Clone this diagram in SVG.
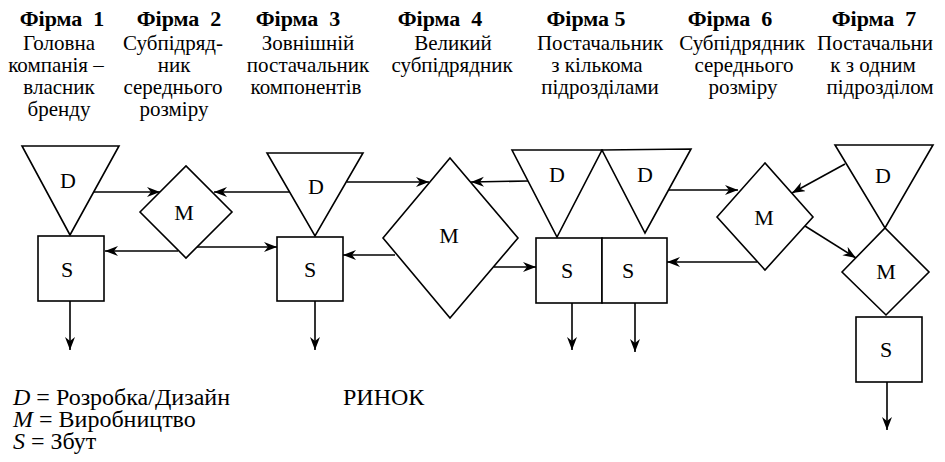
<svg xmlns="http://www.w3.org/2000/svg" width="945" height="462" viewBox="0 0 945 462">
<style>
.t{font-family:'Liberation Serif','Times New Roman',serif;font-size:21px;fill:#000;text-anchor:middle}
.h{font-weight:bold;font-size:22px}
.l{font-family:'Liberation Serif','Times New Roman',serif;font-size:22px;fill:#000;text-anchor:middle}
.lg{font-family:'Liberation Serif','Times New Roman',serif;font-size:24px;fill:#000}
.s{fill:#fff;stroke:#000;stroke-width:1.6}
.c{fill:none;stroke:#000;stroke-width:1.6;marker-end:url(#a)}
</style>
<defs>
<marker id="a" markerWidth="14" markerHeight="12" refX="13" refY="5" orient="auto" markerUnits="userSpaceOnUse">
<path d="M0,0 L13,5 L0,10 L4,5 z" fill="#000"/>
</marker>
</defs>
<rect width="945" height="462" fill="#fff"/>

<g id="headers">
<g id="col1"><text class="t h" x="62" y="26" xml:space="preserve">Фірма  1</text><text class="t" x="59" y="50">Головна</text><text class="t" x="56" y="72">компанія –</text><text class="t" x="59" y="94">власник</text><text class="t" x="59" y="116">бренду</text></g>
<g id="col2"><text class="t h" x="179" y="26" xml:space="preserve">Фірма  2</text><text class="t" x="173" y="50">Субпідряд-</text><text class="t" x="174" y="72">ник</text><text class="t" x="173" y="94">середнього</text><text class="t" x="174" y="116">розміру</text></g>
<g id="col3"><text class="t h" x="298" y="26" xml:space="preserve">Фірма  3</text><text class="t" x="308" y="50">Зовнішній</text><text class="t" x="308" y="72">постачальник</text><text class="t" x="306" y="94">компонентів</text></g>
<g id="col4"><text class="t h" x="440" y="26" xml:space="preserve">Фірма  4</text><text class="t" x="453" y="50">Великий</text><text class="t" x="452" y="72">субпідрядник</text></g>
<g id="col5"><text class="t h" x="586" y="26">Фірма 5</text><text class="t" x="600" y="50">Постачальник</text><text class="t" x="597" y="72">з кількома</text><text class="t" x="600" y="94">підрозділами</text></g>
<g id="col6"><text class="t h" x="730" y="26" xml:space="preserve">Фірма  6</text><text class="t" x="742" y="50">Субпідрядник</text><text class="t" x="744" y="72">середнього</text><text class="t" x="743" y="94">розміру</text></g>
<g id="col7"><text class="t h" x="874" y="26" xml:space="preserve">Фірма  7</text><text class="t" x="875" y="50">Постачальни</text><text class="t" x="873" y="72">к з одним</text><text class="t" x="880" y="94">підрозділом</text></g>
</g>

<g id="D1"><polygon class="s" points="22,146 119,146 70,235"/><text class="l" x="68" y="188">D</text></g>
<g id="S1"><rect class="s" x="38" y="236" width="66" height="65"/><text class="l" x="67" y="277">S</text></g>
<g id="M2"><polygon class="s" points="140,212 186,166 232,212 186,258"/><text class="l" x="184" y="220">M</text></g>
<g id="D3"><polygon class="s" points="267,153 363,153 315,236"/><text class="l" x="316" y="194">D</text></g>
<g id="S3"><rect class="s" x="277" y="237" width="66" height="64"/><text class="l" x="310" y="277">S</text></g>
<g id="M4"><polygon class="s" points="383,238 450,158 518,238 450,318"/><text class="l" x="449" y="243">M</text></g>
<g id="D5"><polygon class="s" points="512,150 602,150 557,237"/><text class="l" x="557" y="182">D</text></g>
<g id="D6"><polygon class="s" points="602,150 691,149 645,233"/><text class="l" x="645" y="182">D</text></g>
<g id="S5a"><rect class="s" x="536" y="238" width="66" height="65"/><text class="l" x="567" y="278">S</text></g>
<g id="S5b"><rect class="s" x="602" y="238" width="65" height="65"/><text class="l" x="628" y="278">S</text></g>
<g id="M6"><polygon class="s" points="717,217 765,163 813,217 765,270"/><text class="l" x="764" y="225">M</text></g>
<g id="D7"><polygon class="s" points="835,145 933,145 885,228"/><text class="l" x="883" y="183">D</text></g>
<g id="M7"><polygon class="s" points="842,272 885,228 929,272 886,315"/><text class="l" x="886" y="279">M</text></g>
<g id="S7"><rect class="s" x="856" y="317" width="66" height="65"/><text class="l" x="886" y="357">S</text></g>

<g id="connectors">
<line class="c" x1="94" y1="192" x2="160" y2="192"/>
<line class="c" x1="289" y1="192" x2="214" y2="192"/>
<line class="c" x1="178" y1="251" x2="105" y2="251"/>
<line class="c" x1="197" y1="247" x2="277" y2="247"/>
<line class="c" x1="70" y1="301" x2="70" y2="350"/>
<line class="c" x1="315" y1="301" x2="315" y2="350"/>
<line class="c" x1="347" y1="182" x2="429" y2="182"/>
<line class="c" x1="528" y1="181" x2="471" y2="182"/>
<line class="c" x1="395" y1="255" x2="343" y2="255"/>
<line class="c" x1="494" y1="267" x2="536" y2="267"/>
<line class="c" x1="572" y1="303" x2="572" y2="350"/>
<line class="c" x1="635" y1="303" x2="635" y2="352"/>
<line class="c" x1="669" y1="190" x2="738" y2="190"/>
<line class="c" x1="757" y1="262" x2="667" y2="262"/>
<line class="c" x1="845" y1="164" x2="792" y2="193"/>
<line class="c" x1="805" y1="226" x2="856" y2="258"/>
<line class="c" x1="887" y1="382" x2="887" y2="430"/>
</g>

<g id="legend">
<text class="lg" x="13" y="405"><tspan font-style="italic">D</tspan> = Розробка/Дизайн</text>
<text class="lg" x="13" y="427"><tspan font-style="italic">M</tspan> = Виробництво</text>
<text class="lg" x="13" y="449"><tspan font-style="italic">S</tspan> = Збут</text>
<text class="lg" x="343" y="405" font-size="22.5">РИНОК</text>
</g>
</svg>
